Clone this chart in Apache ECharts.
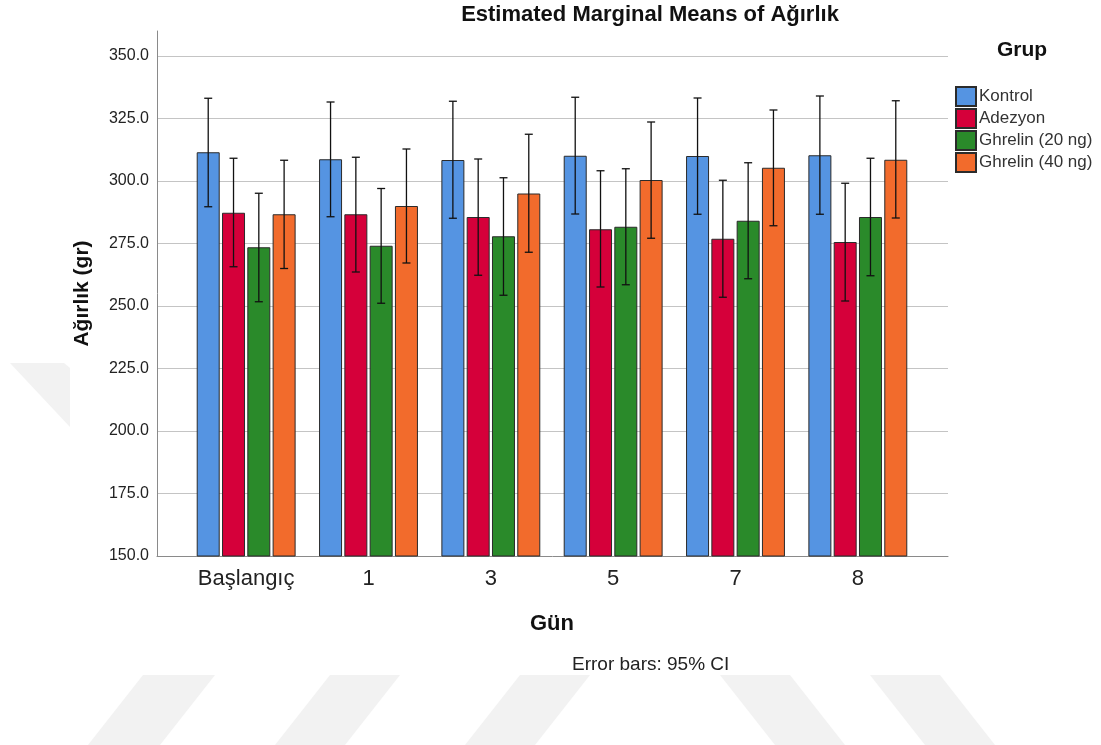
<!DOCTYPE html>
<html>
<head>
<meta charset="utf-8">
<title>Estimated Marginal Means of Ağırlık</title>
<script src="https://cdn.jsdelivr.net/npm/echarts@6/dist/echarts.min.js"></script>
<style>
  html, body { margin: 0; padding: 0; background: #ffffff; }
  #chart { width: 1101px; height: 745px; }
</style>
</head>
<body>
<div id="chart"></div>
<script>
// Days of measurement
const categories = ['Başlangıç', '1', '3', '5', '7', '8'];
const groupNames = ['Kontrol', 'Adezyon', 'Ghrelin (20 ng)', 'Ghrelin (40 ng)'];

// Estimated marginal means of body weight (gr) with 95% CI bounds
const kontrolMean = [311.5, 308.7, 308.4, 310.1, 310.0, 310.3];
const kontrolLow  = [289.7, 285.7, 285.1, 286.8, 286.7, 286.7];
const kontrolHigh = [333.1, 331.6, 331.9, 333.5, 333.2, 334.0];

const adezyonMean = [287.3, 286.7, 285.6, 280.7, 276.9, 275.6];
const adezyonLow  = [265.7, 263.6, 262.3, 257.6, 253.5, 252.0];
const adezyonHigh = [309.1, 309.5, 308.8, 304.1, 300.3, 299.1];

const ghrelin20Mean = [273.5, 274.1, 277.9, 281.7, 284.1, 285.6];
const ghrelin20Low  = [251.7, 251.1, 254.3, 258.5, 260.9, 262.1];
const ghrelin20High = [295.1, 297.0, 301.3, 304.9, 307.3, 309.1];

const ghrelin40Mean = [286.7, 290.0, 295.0, 300.4, 305.3, 308.5];
const ghrelin40Low  = [265.0, 267.2, 271.5, 277.1, 282.1, 285.2];
const ghrelin40High = [308.3, 312.8, 318.7, 323.6, 328.4, 332.1];

// Y axis scale
const yMin = 150, yMax = 360, yStep = 25;

const means = [kontrolMean, adezyonMean, ghrelin20Mean, ghrelin40Mean];
const lows = [kontrolLow, adezyonLow, ghrelin20Low, ghrelin40Low];
const highs = [kontrolHigh, adezyonHigh, ghrelin20High, ghrelin40High];
const colors = ['#5594E2', '#D5003A', '#2A8A2A', '#F26B2C'];

const FONT = 'Liberation Sans, Arial, sans-serif';
const BAR_W = 23;
const BAR_GAP_PX = 2.3;
const STEP = BAR_W + BAR_GAP_PX;

const barSeries = groupNames.map((name, i) => ({
  name: name,
  type: 'bar',
  xAxisIndex: 1,
  yAxisIndex: 1,
  barWidth: BAR_W,
  barGap: '10%',
  data: means[i],
  itemStyle: { color: colors[i], borderColor: '#2b2b2b', borderWidth: 1 },
  emphasis: { disabled: true },
  z: 3
}));

const errorSeries = groupNames.map((name, i) => ({
  type: 'custom',
  name: name + ' CI',
  xAxisIndex: 1,
  yAxisIndex: 1,
  z: 5,
  silent: true,
  data: categories.map((c, k) => [k, lows[i][k], highs[i][k]]),
  encode: { x: 0, y: [1, 2] },
  renderItem: function (params, api) {
    const k = api.value(0);
    const lo = api.coord([k, api.value(1)]);
    const hi = api.coord([k, api.value(2)]);
    const x = lo[0] + (i - 1.5) * STEP;
    const cap = 4;
    const style = { stroke: '#111111', lineWidth: 1.3 };
    return {
      type: 'group',
      children: [
        { type: 'line', shape: { x1: x, y1: lo[1], x2: x, y2: hi[1] }, style: style },
        { type: 'line', shape: { x1: x - cap, y1: hi[1], x2: x + cap, y2: hi[1] }, style: style },
        { type: 'line', shape: { x1: x - cap, y1: lo[1], x2: x + cap, y2: lo[1] }, style: style }
      ]
    };
  }
}));

// Faint background marks
const wm = '#f2f2f2';
const bgShapes = [
  [[10, 363], [64, 363], [70, 368], [70, 427]],
  [[143, 675], [215, 675], [160, 745], [88, 745]],
  [[330, 675], [400, 675], [345, 745], [275, 745]],
  [[520, 675], [590, 675], [535, 745], [465, 745]],
  [[720, 675], [790, 675], [845, 745], [775, 745]],
  [[870, 675], [940, 675], [995, 745], [925, 745]]
].map(pts => ({ type: 'polygon', shape: { points: pts }, style: { fill: wm }, z: -10, silent: true }));

const chart = echarts.init(document.getElementById('chart'), null, { renderer: 'canvas' });

chart.setOption({
  animation: false,
  backgroundColor: '#ffffff',
  title: {
    text: 'Estimated Marginal Means of Ağırlık',
    left: 645,
    top: -1,
    textAlign: 'center',
    textStyle: { fontFamily: FONT, fontSize: 22, fontWeight: 'bold', color: '#111' }
  },
  legend: {
    data: groupNames,
    orient: 'vertical',
    left: 950,
    top: 81,
    itemWidth: 20,
    itemHeight: 19,
    itemGap: 1,
    icon: 'rect',
    selectedMode: false,
    textStyle: { fontFamily: FONT, fontSize: 17, color: '#333', lineHeight: 19, height: 19, padding: [0, 0, 0, -2] }
  },
  graphic: bgShapes.concat([
    {
      type: 'text',
      left: 997,
      top: 40,
      style: { text: 'Grup', font: 'bold 21px ' + FONT, fill: '#111' }
    },
    {
      type: 'text',
      left: 572,
      top: 655,
      style: { text: 'Error bars: 95% CI', font: '19px ' + FONT, fill: '#222' }
    }
  ]),
  grid: [
    { left: 157, right: 153, top: 31, bottom: 189 },
    { left: 185, right: 182, top: 31, bottom: 189 }
  ],
  xAxis: [
    {
      type: 'value', gridIndex: 0, min: 0, max: 1,
      axisLine: { show: true, lineStyle: { color: '#8a8a8a', width: 1 } },
      axisTick: { show: false }, axisLabel: { show: false }, splitLine: { show: false }
    },
    {
      type: 'category', gridIndex: 1, data: categories,
      axisLine: { show: false }, axisTick: { show: false },
      axisLabel: { interval: 0, hideOverlap: false, fontFamily: FONT, fontSize: 22, color: '#222', margin: 12 },
      name: 'Gün', nameLocation: 'middle', nameGap: 57,
      nameTextStyle: { fontFamily: FONT, fontSize: 22, fontWeight: 'bold', color: '#111' }
    }
  ],
  yAxis: [
    {
      type: 'value', gridIndex: 0, min: yMin, max: yMax, interval: yStep,
      axisLine: { show: true, lineStyle: { color: '#8a8a8a', width: 1 } },
      axisTick: { show: false },
      axisLabel: {
        fontFamily: FONT, fontSize: 16, color: '#222', margin: 8,
        showMaxLabel: false,
        formatter: v => (v % yStep === 0 ? v.toFixed(1) : '')
      },
      splitLine: { show: true, showMinLine: false, showMaxLine: false, lineStyle: { color: '#c4c4c4', width: 1.2 } },
      name: 'Ağırlık (gr)', nameLocation: 'middle', nameGap: 64, nameRotate: 90,
      nameTextStyle: { fontFamily: FONT, fontSize: 21, fontWeight: 'bold', color: '#111' }
    },
    {
      type: 'value', gridIndex: 1, min: yMin, max: yMax, interval: yStep,
      show: false, splitLine: { show: false }
    }
  ],
  series: barSeries.concat(errorSeries)
});
</script>
</body>
</html>
